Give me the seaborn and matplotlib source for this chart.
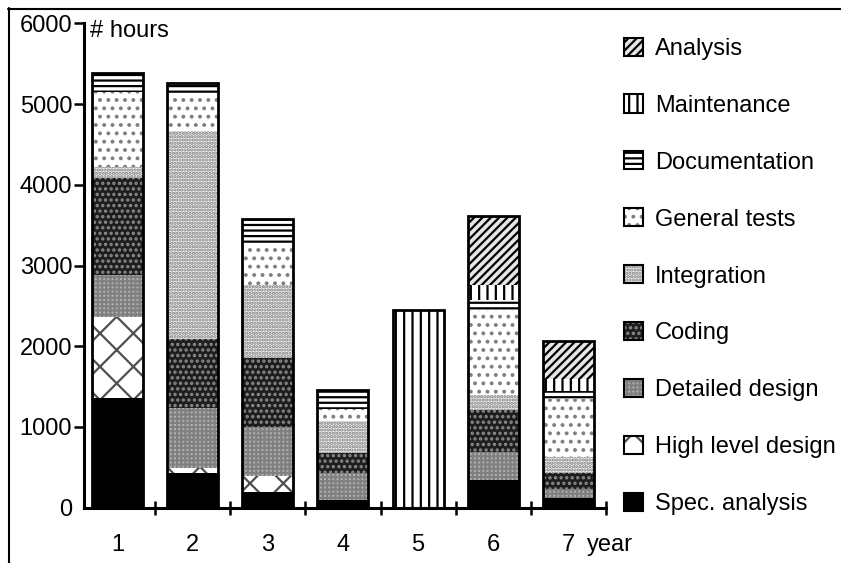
import matplotlib
matplotlib.use('Agg')
import matplotlib.pyplot as plt
import matplotlib.patches as mpatches
from matplotlib.lines import Line2D
from matplotlib.legend_handler import HandlerTuple
import numpy as np
import pandas as pd
import seaborn as sns

# hours per activity and year
years = ['1', '2', '3', '4', '5', '6', '7']
spec_analysis = [1360, 430, 190, 90, 0, 340, 120]
high_level_design = [1000, 60, 200, 0, 0, 0, 0]
detailed_design = [520, 740, 610, 340, 0, 350, 110]
coding = [1200, 860, 850, 250, 0, 520, 200]
integration = [140, 2570, 910, 390, 0, 190, 200]
general_tests = [930, 450, 480, 150, 0, 1050, 720]
documentation = [240, 150, 330, 240, 0, 120, 100]
maintenance = [0, 0, 0, 0, 2450, 190, 150]
analysis = [0, 0, 0, 0, 0, 850, 460]

activities = ['Spec. analysis', 'High level design', 'Detailed design', 'Coding',
              'Integration', 'General tests', 'Documentation', 'Maintenance', 'Analysis']
series = [spec_analysis, high_level_design, detailed_design, coding,
          integration, general_tests, documentation, maintenance, analysis]

# face colour, hatch, hatch colour for each activity
styles = {
    'Spec. analysis': ('black', None, 'black'),
    'High level design': ('white', 'x', '#505050'),
    'Detailed design': ('#b4b4b4', '++++', '#808080'),
    'Coding': ('#1e1e1e', '...', '#8c8c8c'),
    'Integration': ('#f2f2f2', '.....', '#7a7a7a'),
    'General tests': ('white', '..', '#808080'),
    'Documentation': ('white', '---', 'black'),
    'Maintenance': ('white', '||', 'black'),
    'Analysis': ('#e6e6e6', '////', 'black'),
}

df = pd.DataFrame(dict(zip(activities, series)))
df['year'] = years
cum = df[activities].cumsum(axis=1)
cum['year'] = years

sns.set_style('ticks')
plt.rcParams['font.family'] = ['Liberation Sans', 'DejaVu Sans']
plt.rcParams['hatch.linewidth'] = 1.6
for key in ['text.color', 'axes.edgecolor', 'xtick.color', 'ytick.color', 'axes.labelcolor']:
    plt.rcParams[key] = 'black'

fig = plt.figure(figsize=(8.41, 5.63), dpi=100)
ax = fig.add_axes([84 / 841, 1 - 507.7 / 563, 522 / 841, 484.4 / 563])

# draw cumulative bars from the top layer down so lower layers cover upper ones
for act in reversed(activities):
    face, hatch, hcol = styles[act]
    sns.barplot(data=cum, x='year', y=act, color=face, saturation=1,
                hatch=hatch, edgecolor=hcol, linewidth=0, width=0.68, ax=ax)

# outer outline of each stack
sns.barplot(data=cum, x='year', y='Analysis', fill=False, edgecolor='black',
            linewidth=2, width=0.68, ax=ax)

ax.set_xlim(-0.445, 6.5)
ax.set_ylim(0, 6000)
ax.set_xlabel('')
ax.set_ylabel('')
ax.set_yticks(np.arange(0, 6001, 1000))
ax.tick_params(axis='y', direction='out', length=7, width=1.8, pad=1.5, labelsize=17)
ax.tick_params(axis='x', which='major', length=0, pad=19, labelsize=17)
ax.set_xticks(np.arange(0.5, 7, 1), minor=True)
ax.tick_params(axis='x', which='minor', direction='inout', length=10, width=1.8)
ax.yaxis.get_major_ticks()[0].tick1line.set_visible(False)
sns.despine(ax=ax)
for side in ['left', 'bottom']:
    ax.spines[side].set_linewidth(2.2)

fig.text(90 / 841, 1 - 31 / 563, '# hours', ha='left', va='center', fontsize=17)
fig.text(587 / 841, 1 - 545 / 563, 'year', ha='left', va='center', fontsize=17)

# legend, top entry first
handles = []
for act in reversed(activities):
    face, hatch, hcol = styles[act]
    handles.append((mpatches.Patch(facecolor=face, hatch=hatch, edgecolor=hcol, linewidth=0),
                    mpatches.Patch(fill=False, edgecolor='black', linewidth=1.5)))
fig.legend(handles, list(reversed(activities)), loc='upper left',
           bbox_to_anchor=(624 / 841, 1 - 37.5 / 563), frameon=False, fontsize=17,
           handlelength=0.8, handleheight=0.8, handletextpad=0.5, labelspacing=1.47,
           borderpad=0, borderaxespad=0,
           handler_map={tuple: HandlerTuple(ndivide=1, pad=0)})

# frame lines at the left and top of the picture
fig.add_artist(Line2D([8.5 / 841, 8.5 / 841], [0, 1 - 8 / 563], transform=fig.transFigure,
                      color='black', linewidth=1.5))
fig.add_artist(Line2D([8 / 841, 1], [1 - 8.5 / 563, 1 - 8.5 / 563], transform=fig.transFigure,
                      color='black', linewidth=1.5))

fig.savefig('out.png', dpi=100)
